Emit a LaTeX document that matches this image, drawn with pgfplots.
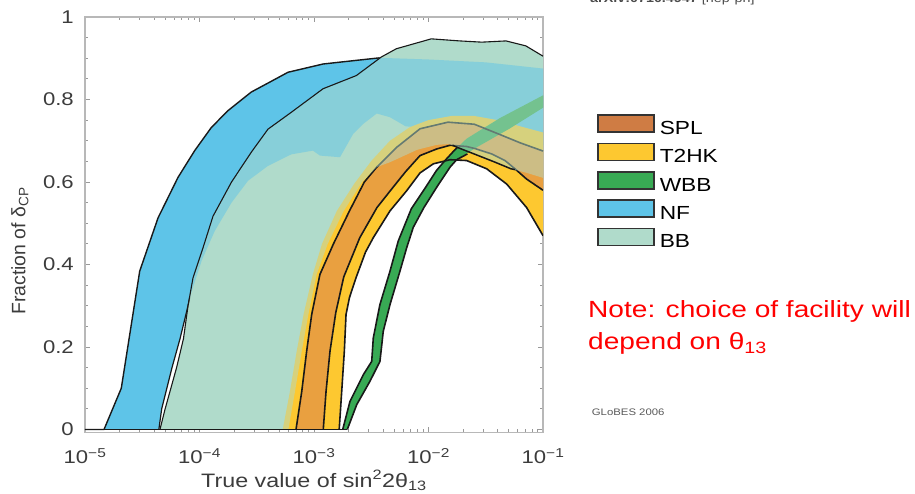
\documentclass[border=0pt]{standalone}
\usepackage{fontspec}
\setmainfont{Liberation Sans}[FakeStretch=1.2]
\newfontfamily\plainsans{Liberation Sans}
\usepackage{pgfplots}
\pgfplotsset{compat=1.18}
\definecolor{nfblue}{RGB}{94,196,232}
\definecolor{t2hk}{RGB}{253,200,48}
\definecolor{splP}{RGB}{233,160,64}
\definecolor{splL}{RGB}{207,124,68}
\definecolor{wbb}{RGB}{56,170,84}
\definecolor{bbteal}{RGB}{176,219,203}
\definecolor{lblack}{RGB}{25,25,25}
\definecolor{txt}{RGB}{60,60,60}
\begin{document}
\begin{tikzpicture}[x=1bp,y=1bp]
\useasboundingbox (-85,-61.5) rectangle (830,432.5);
\begin{axis}[
  at={(0,0)}, anchor=south west,
  scale only axis, width=458bp, height=415.5bp,
  xmode=log, xmin=1e-5, xmax=1e-1, ymin=-0.0073, ymax=1,
  xtick={1e-5,1e-4,1e-3,1e-2,1e-1},
  xticklabels={10\textsuperscript{−5},10\textsuperscript{−4},10\textsuperscript{−3},10\textsuperscript{−2},10\textsuperscript{−1}},
  minor xtick={2e-5,3e-5,4e-5,5e-5,6e-5,7e-5,8e-5,9e-5,2e-4,3e-4,4e-4,5e-4,6e-4,7e-4,8e-4,9e-4,2e-3,3e-3,4e-3,5e-3,6e-3,7e-3,8e-3,9e-3,2e-2,3e-2,4e-2,5e-2,6e-2,7e-2,8e-2,9e-2},
  ytick={0,0.2,0.4,0.6,0.8,1},
  yticklabels={0,0.2,0.4,0.6,0.8,1},
  minor y tick num=3,
  tick align=inside,
  major tick length=5bp, minor tick length=3bp,
  axis line style={draw=black!28, line width=1.3bp},
  every tick/.style={draw=black!40, line width=0.8bp},
  xticklabel style={anchor=base, yshift=-31.5bp, font=\fontsize{18.5}{20}\selectfont, text=txt},
  yticklabel style={anchor=east, inner sep=0pt, xshift=-11bp, font=\fontsize{18.5}{20}\selectfont, text=txt},
  every axis x label/.style={at={(axis description cs:0.5,-0.1312)}, anchor=base, font=\fontsize{19.5}{22}\selectfont, text=txt},
  every axis y label/.style={at={(axis description cs:-0.142,0.437)}, rotate=90, anchor=center, font=\plainsans\fontsize{19.5}{22}\selectfont, text=txt},
  xlabel={True value of sin\textsuperscript{2}2θ\textsubscript{13}},
  ylabel={Fraction of δ\textsubscript{CP}},
  legend image code/.code={\draw[#1, draw=black!80, line width=1.6bp] (0bp,-3.4bp) rectangle (56bp,13.6bp);},
  legend cell align=left,
  legend style={at={(axis description cs:1,1)}, anchor=north west, xshift=54bp, yshift=-97bp,
    draw=none, fill=none, inner sep=0pt, row sep=6.7bp,
    font=\fontsize{19}{21}\selectfont,
    nodes={inner sep=0pt},
    /tikz/every odd column/.append style={column sep=5bp}},
]
% ---- BB opaque base
\addplot[forget plot, fill=bbteal, draw=none] coordinates {
(4.519e-5,0) (5.012e-5,0.05) (6.310e-5,0.15) (7.244e-5,0.22) (7.943e-5,0.30) (8.770e-5,0.367) (1.072e-4,0.44) (1.312e-4,0.517) (1.905e-4,0.60) (2.831e-4,0.672) (3.963e-4,0.728) (6.339e-4,0.769) (1.199e-3,0.826) (2.344e-3,0.858) (3.873e-3,0.903) (5.236e-3,0.923) (1.057e-2,0.947) (1.871e-2,0.942) (2.920e-2,0.939) (4.753e-2,0.942) (7.079e-2,0.93) (1e-1,0.905)
(1e-1,0.61) (7.244e-2,0.622) (5.248e-2,0.632) (3.811e-2,0.648) (2.723e-2,0.664) (1.820e-2,0.683) (1.514e-2,0.692) (1.175e-2,0.69) (7.943e-3,0.678) (4.613e-3,0.648) (3.532e-3,0.636) (2.630e-3,0.60) (1.820e-3,0.53) (1.318e-3,0.45) (1.054e-3,0.376) (8.933e-4,0.279) (7.816e-4,0.19) (6.823e-4,0.092) (5.970e-4,0)
} -- cycle;
% ---- NF
\addplot[forget plot, fill=nfblue, draw=none] coordinates {
(1e-5,0) (1.466e-5,0) (2.075e-5,0.10) (3.006e-5,0.384) (4.345e-5,0.513) (6.486e-5,0.611) (9.078e-5,0.676) (1.268e-4,0.732) (1.774e-4,0.773) (2.831e-4,0.818) (4.102e-4,0.842) (5.929e-4,0.866) (1.199e-3,0.886) (2.193e-3,0.894) (3.750e-3,0.901) (1e-2,0.897) (3.162e-2,0.89) (1e-1,0.875)
(1e-1,0.69) (2.512e-2,0.72) (6.310e-3,0.735) (4.613e-3,0.757) (3.532e-3,0.766) (2.698e-3,0.741) (2.203e-3,0.717) (1.687e-3,0.66) (1.127e-3,0.664) (9.795e-4,0.676) (6.339e-4,0.667) (3.963e-4,0.639) (2.655e-4,0.603) (1.905e-4,0.55) (1.358e-4,0.481) (1.047e-4,0.41) (8.204e-5,0.319) (7.943e-5,0.30) (6.761e-5,0.22) (5.754e-5,0.15) (4.677e-5,0.05) (4.416e-5,0)
} -- cycle;
% ---- T2HK
\addplot[forget plot, fill=t2hk, draw=none] coordinates {
(5.333e-4,0) (6.166e-4,0.092) (7.063e-4,0.19) (8.128e-4,0.28) (9.772e-4,0.376) (1.175e-3,0.45) (1.585e-3,0.53) (2.239e-3,0.595) (3.192e-3,0.652) (4.613e-3,0.70) (6.887e-3,0.733) (1e-2,0.75) (1.585e-2,0.76) (2.512e-2,0.76) (4.207e-2,0.749) (6.310e-2,0.735) (1e-1,0.72)
(1e-1,0.47) (7.194e-2,0.538) (4.819e-2,0.595) (3.221e-2,0.632) (2.153e-2,0.652) (1.542e-2,0.654) (1.102e-2,0.644) (8.433e-3,0.622) (6.457e-3,0.579) (4.613e-3,0.53) (3.296e-3,0.465) (2.818e-3,0.43) (2.344e-3,0.37) (2.042e-3,0.32) (1.905e-3,0.279) (1.841e-3,0.19) (1.746e-3,0.092) (1.660e-3,0)
} -- cycle;
% ---- SPL
\addplot[forget plot, fill=splP, draw=none] coordinates {
(6.966e-4,0) (7.816e-4,0.092) (8.630e-4,0.19) (9.550e-4,0.279) (1.127e-3,0.376) (1.479e-3,0.45) (2.042e-3,0.53) (2.754e-3,0.60) (3.532e-3,0.636) (5.272e-3,0.684) (8.433e-3,0.729) (1.479e-2,0.745) (2.512e-2,0.74) (4.207e-2,0.715) (6.310e-2,0.695) (1e-1,0.675)
(1e-1,0.58) (7.194e-2,0.607) (5.689e-2,0.632) (4.656e-2,0.652) (3.565e-2,0.668) (2.547e-2,0.681) (2.153e-2,0.686) (1.542e-2,0.689) (1.178e-2,0.68) (8.433e-3,0.664) (6.310e-3,0.625) (4.898e-3,0.587) (3.548e-3,0.538) (2.512e-3,0.465) (1.820e-3,0.37) (1.549e-3,0.283) (1.380e-3,0.19) (1.274e-3,0.092) (1.205e-3,0)
} -- cycle;
% ---- WBB
\addplot[forget plot, fill=wbb, draw=none] coordinates {
(1.782e-3,0) (2.061e-3,0.068) (2.698e-3,0.133) (3.192e-3,0.165) (3.296e-3,0.222) (3.767e-3,0.303) (4.613e-3,0.384) (5.445e-3,0.457) (7.079e-3,0.535) (9.333e-3,0.585) (1.175e-2,0.628) (1.393e-2,0.652) (1.660e-2,0.675) (2.153e-2,0.705) (4.207e-2,0.755) (1e-1,0.81)
(1e-1,0.78) (5.152e-2,0.73) (2.636e-2,0.684) (1.762e-2,0.654) (1.542e-2,0.636) (1.178e-2,0.587) (9.120e-3,0.538) (7.362e-3,0.49) (6.457e-3,0.441) (5.636e-3,0.384) (4.613e-3,0.303) (4.027e-3,0.238) (3.767e-3,0.165) (3.083e-3,0.117) (2.360e-3,0.06) (1.954e-3,0)
} -- cycle;
% ---- outlines (under the BB veil)
\addplot[forget plot, draw=lblack, line width=1.4bp, line join=round] coordinates {
(1e-5,0) (1.466e-5,0) (2.075e-5,0.10) (3.006e-5,0.384) (4.345e-5,0.513) (6.486e-5,0.611) (9.078e-5,0.676) (1.268e-4,0.732) (1.774e-4,0.773) (2.831e-4,0.818) (4.102e-4,0.842) (5.929e-4,0.866) (1.199e-3,0.886) (2.193e-3,0.894) (3.750e-3,0.901)};
\addplot[forget plot, draw=lblack, line width=1.2bp, line join=round] coordinates {
(4.416e-5,0) (4.677e-5,0.05) (5.754e-5,0.15) (6.761e-5,0.22) (7.943e-5,0.30) (8.204e-5,0.319)};
\addplot[forget plot, draw=lblack, line width=1.6bp, line join=round] coordinates {
(1e-1,0.47) (7.194e-2,0.538) (4.819e-2,0.595) (3.221e-2,0.632) (2.153e-2,0.652) (1.542e-2,0.654) (1.102e-2,0.644) (8.433e-3,0.622) (6.457e-3,0.579) (4.613e-3,0.53) (3.296e-3,0.465) (2.818e-3,0.43) (2.344e-3,0.37) (2.042e-3,0.32) (1.905e-3,0.279) (1.841e-3,0.19) (1.746e-3,0.092) (1.660e-3,0)};
\addplot[forget plot, draw=lblack, line width=1.6bp, line join=round] coordinates {
(6.966e-4,0) (7.816e-4,0.092) (8.630e-4,0.19) (9.550e-4,0.279) (1.127e-3,0.376) (1.479e-3,0.45) (2.042e-3,0.53) (2.754e-3,0.60) (3.532e-3,0.636) (5.272e-3,0.684) (8.433e-3,0.729) (1.479e-2,0.745) (2.512e-2,0.74) (4.207e-2,0.715) (6.310e-2,0.695) (1e-1,0.675)};
\addplot[forget plot, draw=lblack, line width=1.6bp, line join=round] coordinates {
(1e-1,0.58) (7.194e-2,0.607) (5.689e-2,0.632) (4.656e-2,0.652) (3.565e-2,0.668) (2.547e-2,0.681) (2.153e-2,0.686) (1.542e-2,0.689) (1.178e-2,0.68) (8.433e-3,0.664) (6.310e-3,0.625) (4.898e-3,0.587) (3.548e-3,0.538) (2.512e-3,0.465) (1.820e-3,0.37) (1.549e-3,0.283) (1.380e-3,0.19) (1.274e-3,0.092) (1.205e-3,0)};
\addplot[forget plot, draw=lblack, line width=1.6bp, line join=round] coordinates {
(1.782e-3,0) (2.061e-3,0.068) (2.698e-3,0.133) (3.192e-3,0.165) (3.296e-3,0.222) (3.767e-3,0.303) (4.613e-3,0.384) (5.445e-3,0.457) (7.079e-3,0.535) (9.333e-3,0.585) (1.175e-2,0.628) (1.393e-2,0.652) (1.660e-2,0.675) (1.778e-2,0.683)};
\addplot[forget plot, draw=lblack, line width=1.6bp, line join=round] coordinates {
(1.954e-3,0) (2.360e-3,0.06) (3.083e-3,0.117) (3.767e-3,0.165) (4.027e-3,0.238) (4.613e-3,0.303) (5.636e-3,0.384) (6.457e-3,0.441) (7.362e-3,0.49) (9.120e-3,0.538) (1.178e-2,0.587) (1.542e-2,0.636) (1.762e-2,0.654) (2.188e-2,0.668)};
% ---- BB veil
\addplot[forget plot, fill=bbteal, fill opacity=0.5, draw=none] coordinates {
(4.519e-5,0) (5.012e-5,0.05) (6.310e-5,0.15) (7.244e-5,0.22) (7.943e-5,0.30) (8.770e-5,0.367) (1.072e-4,0.44) (1.312e-4,0.517) (1.905e-4,0.60) (2.831e-4,0.672) (3.963e-4,0.728) (6.339e-4,0.769) (1.199e-3,0.826) (2.344e-3,0.858) (3.873e-3,0.903) (5.236e-3,0.923) (1.057e-2,0.947) (1.871e-2,0.942) (2.920e-2,0.939) (4.753e-2,0.942) (7.079e-2,0.93) (1e-1,0.905)
(1e-1,0.61) (7.244e-2,0.622) (5.248e-2,0.632) (3.811e-2,0.648) (2.723e-2,0.664) (1.820e-2,0.683) (1.514e-2,0.692) (1.175e-2,0.69) (7.943e-3,0.678) (4.613e-3,0.648) (3.532e-3,0.636) (2.630e-3,0.60) (1.820e-3,0.53) (1.318e-3,0.45) (1.054e-3,0.376) (8.933e-4,0.279) (7.816e-4,0.19) (6.823e-4,0.092) (5.970e-4,0)
} -- cycle;
% ---- BB upper edge, lens edge, zero line
\addplot[forget plot, draw=lblack, line width=1.1bp, line join=round] coordinates {
(4.519e-5,0) (5.012e-5,0.05) (6.310e-5,0.15) (7.244e-5,0.22) (7.943e-5,0.30) (8.770e-5,0.367) (1.072e-4,0.44) (1.312e-4,0.517) (1.905e-4,0.60) (2.831e-4,0.672) (3.963e-4,0.728) (6.339e-4,0.769) (1.199e-3,0.826) (2.344e-3,0.858) (3.873e-3,0.903) (5.236e-3,0.923) (1.057e-2,0.947) (1.871e-2,0.942) (2.920e-2,0.939) (4.753e-2,0.942) (7.079e-2,0.93) (1e-1,0.905)};
\addplot[forget plot, draw=lblack, line width=1.5bp, line join=round] coordinates {
(1.62e-2,0.689) (1.820e-2,0.683) (2.723e-2,0.664) (3.811e-2,0.648) (5.248e-2,0.632) (5.689e-2,0.630)};
\addplot[forget plot, draw=lblack, line width=1.6bp] coordinates {(1e-5,0) (1.954e-3,0)};
% ---- legend
\addlegendimage{fill=splL}\addlegendentry{SPL}
\addlegendimage{fill=t2hk}\addlegendentry{T2HK}
\addlegendimage{fill=wbb}\addlegendentry{WBB}
\addlegendimage{fill=nfblue}\addlegendentry{NF}
\addlegendimage{fill=bbteal}\addlegendentry{BB}
\end{axis}
\node[anchor=base west, inner sep=0pt, text=red, font=\fontsize{23.5}{27}\selectfont] at (503,114.5) {Note: choice of facility will};
\node[anchor=base west, inner sep=0pt, text=red, font=\fontsize{23.5}{27}\selectfont] at (503,82.5) {depend on θ\textsubscript{13}};
\node[anchor=base west, inner sep=0pt, text=black!65, font=\fontsize{9.5}{11}\selectfont] at (506.7,16.5) {GLoBES 2006};
\node[anchor=base west, inner sep=0pt, text=black!70, font=\fontsize{12}{14}\selectfont] at (505,429.5) {\bfseries arXiv:0710.4947 \mdseries [hep-ph]};
\end{tikzpicture}
\end{document}
